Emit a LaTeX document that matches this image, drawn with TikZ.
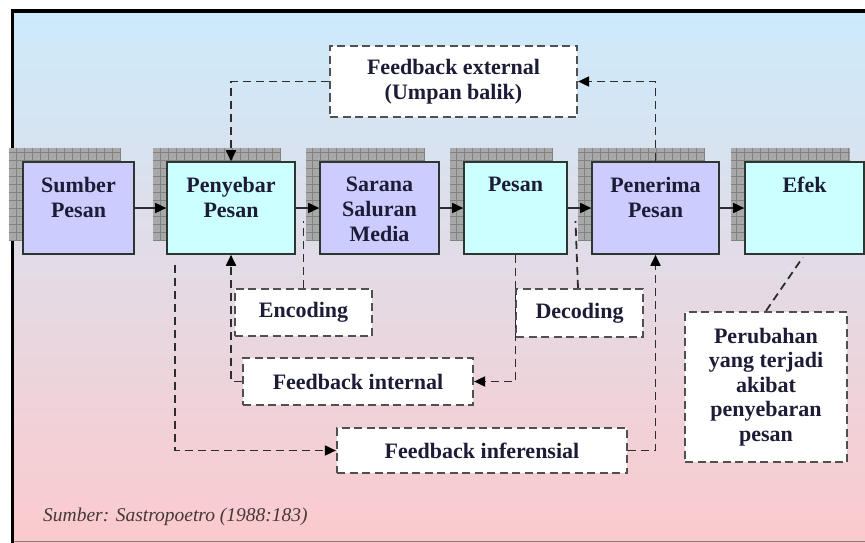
\documentclass[tikz,border=0pt]{standalone}
\usepackage{fontspec}
\setmainfont{Liberation Serif}
\usetikzlibrary{arrows.meta,calc}
\definecolor{bgtop}{RGB}{204,235,252}
\definecolor{bgbot}{RGB}{251,202,205}
\definecolor{lav}{RGB}{204,204,255}
\definecolor{cyanl}{RGB}{204,255,255}
\definecolor{txt}{RGB}{28,28,55}
\definecolor{edge}{RGB}{45,55,50}
\definecolor{dgray}{RGB}{45,45,45}
\definecolor{boxgray}{RGB}{80,80,80}
\definecolor{shad}{RGB}{168,168,168}
\definecolor{shadline}{RGB}{130,130,130}
\definecolor{capc}{RGB}{70,55,55}
\tikzset{
 block/.style={draw=edge, line width=1.6pt, inner sep=0pt},
 btext/.style={font=\fontsize{22}{25}\selectfont\bfseries, text=txt, align=center, inner sep=0pt},
 dbox/.style={draw=boxgray, fill=white, line width=2.2pt, dash pattern=on 8pt off 4.5pt, inner sep=0pt,
   font=\fontsize{22}{24.5}\selectfont\bfseries, text=txt, align=center},
 solidarrow/.style={draw=dgray, line width=1.6pt, -{Triangle[length=11pt,width=10pt,color=black]}},
 dline/.style={draw=dgray, line width=1.8pt, dash pattern=on 8pt off 5pt},
 darrow/.style={dline, -{Triangle[length=11pt,width=10pt,color=black]}},
}
\newcommand\mkblock[7]{%
 \fill[shad] ({#2-14},{#3-14}) rectangle ({#4-14},{#5-14});
 \draw[shadline, line width=0.5pt, step=8pt] ({#2-14},{#5-14}) grid ({#4-14},{#3-14});
 \node[block, fill=#6, minimum width={(#4-#2)*1pt}, minimum height={(#5-#3)*1pt}] (#1) at ({(#2+#4)/2},{(#3+#5)/2}) {};
 \node[btext, anchor=north] (#1-t) at ({(#2+#4)/2},177) {#7};
}
\begin{document}
\begin{tikzpicture}[x=1pt,y=-1pt]
\useasboundingbox (0,0) rectangle (865,543);
\shade[top color=bgtop, bottom color=bgbot] (12,11) rectangle (865,542);
\draw[line width=0.8pt, gray] (12,541.5) -- (865,541.5);
\draw[line width=3.5pt, black] (12.5,543) -- (12.5,11) -- (865,11);

\mkblock{sumber}{23}{162}{134}{254}{lav}{Sumber\\Pesan}
\mkblock{penyebar}{167}{162}{295}{254}{cyanl}{Penyebar\\Pesan}
\mkblock{sarana}{320}{162}{439}{254}{lav}{Sarana\\Saluran\\Media}
\mkblock{pesan}{464}{162}{567}{254}{cyanl}{Pesan}
\mkblock{penerima}{592}{162}{719}{254}{lav}{Penerima\\Pesan}
\mkblock{efek}{745}{162}{864}{254}{cyanl}{Efek}

\draw[solidarrow] (sumber.east) -- (penyebar.west);
\draw[solidarrow] (penyebar.east) -- (sarana.west);
\draw[solidarrow] (sarana.east) -- (pesan.west);
\draw[solidarrow] (pesan.east) -- (penerima.west);
\draw[solidarrow] (penerima.east) -- (efek.west);

\node[dbox, minimum width=247pt, minimum height=71pt] (fbext) at (453.5,81.5) {Feedback external\\(Umpan balik)};
\node[dbox, minimum width=137pt, minimum height=47pt] (encoding) at (303.5,312.5) {Encoding};
\node[dbox, minimum width=127pt, minimum height=48pt] (decoding) at (579.5,313) {Decoding};
\node[dbox, minimum width=230pt, minimum height=47pt] (fbint) at (358,381.5) {Feedback internal};
\node[dbox, minimum width=290pt, minimum height=45pt] (fbinf) at (482,450.5) {Feedback inferensial};
\node[dbox, minimum width=162pt, minimum height=150pt] (perubahan) at (766,387) {Perubahan\\yang terjadi\\akibat\\penyebaran\\pesan};

\coordinate (encend) at (303.5,221);
\coordinate (decend) at (575.5,221);

\draw[darrow] (fbext.west) -| (penyebar.north);
\draw[darrow] (penerima.north) |- (fbext.east);
\draw[darrow] (fbint.west) -| (penyebar.south);
\draw[darrow] (pesan.south) |- (fbint.east);
\draw[darrow, shorten <=10pt] ([xshift=9pt]penyebar.south west) |- (fbinf.west);
\draw[darrow] (fbinf.east) -| (penerima.south);
\draw[dline] (encoding.north) -- (encend);
\draw[dline] ([xshift=-1.5pt]decoding.north) -- (decend);
\draw[dline, shorten >=3pt] (perubahan.north) -- (efek.south);

\node[anchor=base west, font=\fontsize{19.5}{23}\selectfont\itshape, text=capc, inner sep=0pt] (src) at (43,521) {Sumber: Sastropoetro (1988:183)};
\end{tikzpicture}
\end{document}
